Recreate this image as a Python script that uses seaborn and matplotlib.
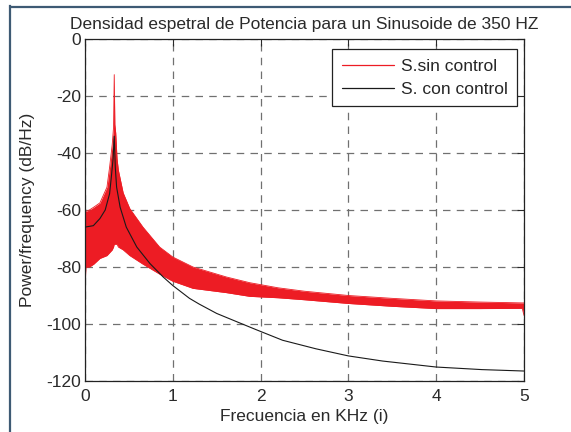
import matplotlib
matplotlib.use("Agg")
import matplotlib.pyplot as plt
from matplotlib.lines import Line2D
import seaborn as sns
import pandas as pd

# ---- data ----
red_f = [0, 0.01, 0.05, 0.10, 0.17, 0.25, 0.28, 0.31, 0.325, 0.333, 0.34, 0.35, 0.365, 0.38,
         0.435, 0.51, 0.66, 0.85, 1.0, 1.23, 1.61, 1.875, 2.2, 2.5, 3.0, 3.5, 4.0, 4.5, 4.98, 5.0]
red_upper = [-60.5, -60.5, -60, -59, -57.5, -52, -45, -37, -31, -12.5, -30, -33, -42, -46,
             -54, -59.5, -66, -73, -76.5, -80, -83.5, -85.5, -87.3, -88.5, -90, -91,
             -91.9, -92.3, -92.6, -92.6]
red_lower = [-88, -80, -80, -79, -77, -76, -75, -74, -73, -72, -72, -72, -72, -73,
             -74, -76, -79, -82.5, -85, -87.5, -89, -90.3, -90.8, -91.5, -92.8, -93.8,
             -94.6, -94.6, -94.5, -97]

blk_f = [0, 0.095, 0.17, 0.23, 0.28, 0.30, 0.32, 0.333, 0.345, 0.36, 0.40, 0.47, 0.59,
         0.74, 0.89, 1.0, 1.19, 1.3, 1.5, 1.76, 1.95, 2.25, 2.63, 3.0, 3.39, 4.0, 4.52, 5.0]
blk_db = [-66, -65.5, -63, -60, -54.3, -48.4, -42, -34.1, -45, -52, -59, -66, -73,
          -78.8, -83.5, -86.5, -91, -93.0, -96.3, -99.6, -102, -105.7, -108.7, -111.2, -113,
          -115.1, -116, -116.5]

x_ticks = [0, 1, 2, 3, 4, 5]
y_ticks = [0, -20, -40, -60, -80, -100, -120]
labels = ["S.sin control", "S. con control"]
title = "Densidad espetral de Potencia para un Sinusoide de 350 HZ"
xlabel = "Frecuencia en KHz (i)"
ylabel = "Power/frequency (dB/Hz)"

RED = "#ed1c24"
BLK = "#1a1a1a"
TXT = "#2a2a2a"
FS = 12.5

sns.set_style("white")
plt.rcParams["font.family"] = ["Liberation Sans", "DejaVu Sans"]

W, H = 571, 432
fig = plt.figure(figsize=(W / 100, H / 100), dpi=100)
ax = fig.add_axes([85 / W, 1 - 381 / H, (524 - 85) / W, (381 - 39) / H])

red_df = pd.DataFrame({"f": red_f, "up": red_upper, "lo": red_lower})
blk_df = pd.DataFrame({"f": blk_f, "db": blk_db})

ax.fill_between(red_df["f"], red_df["lo"], red_df["up"], color=RED, lw=0, zorder=2)
sns.lineplot(data=red_df, x="f", y="up", ax=ax, color=RED, lw=0.6, zorder=2)
sns.lineplot(data=red_df, x="f", y="lo", ax=ax, color=RED, lw=0.6, zorder=2)
sns.lineplot(data=blk_df, x="f", y="db", ax=ax, color=BLK, lw=0.8, zorder=3)

ax.set_xlim(0, 5)
ax.set_ylim(-120, 0)
ax.set_xticks(x_ticks)
ax.set_xticklabels([str(t) for t in x_ticks])
ax.set_yticks(y_ticks)
ax.set_yticklabels([str(t) for t in y_ticks])
ax.tick_params(direction="in", length=5, width=0.8, top=True, right=True,
               labelsize=FS, colors=TXT, pad=3)
ax.tick_params(axis="x", pad=6)
ax.grid(True, color="#707070", linestyle=(0, (6, 5)), linewidth=0.9, zorder=0)
ax.set_axisbelow(True)
for s in ax.spines.values():
    s.set_color("#222222")
    s.set_linewidth(0.9)

ax.set_title(title, fontsize=FS, color=TXT, pad=7)
ax.set_xlabel(xlabel, fontsize=FS, color=TXT, labelpad=3)
ax.set_ylabel(ylabel, fontsize=FS, color=TXT, labelpad=8)

handles = [Line2D([], [], color=RED, lw=0.9), Line2D([], [], color=BLK, lw=0.9)]
leg = ax.legend(handles, labels, loc="upper right",
                bbox_to_anchor=(517 / W, 1 - 49 / H), bbox_transform=fig.transFigure,
                fontsize=FS, frameon=True, fancybox=False, framealpha=1,
                edgecolor="#222222", handlelength=3.0, handletextpad=0.4,
                borderpad=0.55, labelspacing=0.45, borderaxespad=0)
leg.get_frame().set_linewidth(0.9)

# figure border (left and top)
bc = "#3e5a74"
fig.add_artist(Line2D([10 / W, 10 / W], [0, 1 - 6 / H], transform=fig.transFigure,
                      color=bc, lw=1.6, solid_capstyle="projecting"))
fig.add_artist(Line2D([10 / W, 1], [1 - 7 / H, 1 - 7 / H], transform=fig.transFigure,
                      color=bc, lw=1.6))

fig.savefig("out.png", dpi=100)
